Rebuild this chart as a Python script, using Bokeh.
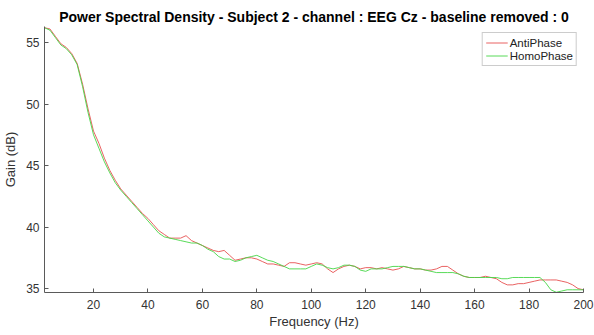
from bokeh.plotting import figure
from bokeh.models import Range1d, FixedTicker, Legend, LegendItem
from bokeh.embed import file_html
from bokeh.resources import INLINE

freq = list(range(2, 201, 2))
anti_phase = [
    56.2, 56.1, 55.5, 54.9, 54.6, 54.1, 53.3, 51.6, 49.6, 47.8,
    46.8, 45.6, 44.6, 43.8, 43.1, 42.6, 42.1, 41.6, 41.1, 40.7,
    40.2, 39.7, 39.4, 39.1, 39.1, 39.1, 39.3, 38.9, 38.7, 38.5,
    38.3, 38.1, 38.0, 38.1, 37.7, 37.3, 37.4, 37.5, 37.5, 37.4,
    37.2, 37.0, 37.0, 36.9, 36.8, 37.1, 37.1, 37.0, 36.9, 37.0,
    37.1, 37.0, 36.6, 36.3, 36.6, 36.8, 36.9, 36.8, 36.6, 36.7,
    36.7, 36.6, 36.7, 36.6, 36.5, 36.6, 36.8, 36.7, 36.6, 36.6,
    36.5, 36.5, 36.6, 36.8, 36.8, 36.5, 36.2, 36.0, 35.9, 35.9,
    35.9, 36.0, 35.9, 35.8, 35.5, 35.3, 35.3, 35.4, 35.4, 35.5,
    35.6, 35.7, 35.7, 35.7, 35.7, 35.6, 35.5, 35.3, 35.0, 34.9,
]
homo_phase = [
    56.2, 56.0, 55.4, 54.8, 54.5, 54.0, 53.2, 51.4, 49.3, 47.5,
    46.4, 45.3, 44.4, 43.6, 43.0, 42.5, 42.0, 41.5, 41.0, 40.5,
    40.0, 39.5, 39.2, 39.1, 39.0, 38.9, 38.8, 38.7, 38.7, 38.5,
    38.2, 38.0, 37.6, 37.4, 37.4, 37.2, 37.3, 37.5, 37.6, 37.7,
    37.5, 37.3, 37.2, 37.0, 36.8, 36.6, 36.6, 36.6, 36.6, 36.8,
    37.0, 36.9, 36.7, 36.6, 36.7, 36.9, 36.9, 36.8, 36.5, 36.4,
    36.6, 36.6, 36.6, 36.7, 36.8, 36.8, 36.8, 36.7, 36.6, 36.6,
    36.5, 36.4, 36.3, 36.3, 36.3, 36.3, 36.2, 36.0, 35.9, 35.9,
    35.9, 35.9, 35.9, 35.9, 35.8, 35.8, 35.9, 35.9, 35.9, 35.9,
    35.9, 35.9, 35.5, 34.9, 34.7, 34.8, 34.9, 34.9, 34.9, 34.9,
]
x_ticks = [20, 40, 60, 80, 100, 120, 140, 160, 180, 200]
y_ticks = [35, 40, 45, 50, 55]
series_names = ["AntiPhase", "HomoPhase"]

FONT = "Liberation Sans"
AX = "#5a5a5a"
TXT = "#333333"

p = figure(width=594, height=335, output_backend="svg", toolbar_location=None,
           x_range=Range1d(2, 200), y_range=Range1d(34.68, 56.3),
           min_border_left=43, min_border_right=11, min_border_top=26,
           min_border_bottom=43,
           title="Power Spectral Density - Subject 2 - channel : EEG Cz - baseline removed : 0")
p.title.text_font = FONT
p.title.text_font_size = "14px"
p.title.text_font_style = "bold"
p.title.text_color = "#000000"
p.title.align = "center"
p.title.offset = 0
p.title.standoff = 4

p.outline_line_color = None
p.xgrid.visible = False
p.ygrid.visible = False
p.background_fill_color = "white"
p.border_fill_color = "white"

for ax in (p.xaxis[0], p.yaxis[0]):
    ax.axis_line_color = AX
    ax.major_tick_line_color = AX
    ax.major_tick_in = 4
    ax.major_tick_out = 0
    ax.minor_tick_line_color = None
    ax.major_label_text_font = FONT
    ax.major_label_text_font_size = "12px"
    ax.major_label_text_color = TXT
    ax.axis_label_text_font = FONT
    ax.axis_label_text_font_size = "13px"
    ax.axis_label_text_font_style = "normal"
    ax.axis_label_text_color = TXT

p.xaxis.ticker = FixedTicker(ticks=x_ticks)
p.yaxis.ticker = FixedTicker(ticks=y_ticks)
p.xaxis.axis_label = "Frequency (Hz)"
p.yaxis.axis_label = "Gain (dB)"
p.xaxis.major_label_standoff = 7
p.yaxis.major_label_standoff = 5
p.xaxis.axis_label_standoff = 2
p.yaxis.axis_label_standoff = 5

r1 = p.line(freq, anti_phase, line_color="#e65050", line_width=0.9)
r2 = p.line(freq, homo_phase, line_color="#46d646", line_width=0.9)

legend = Legend(items=[LegendItem(label=series_names[0], renderers=[r1]),
                       LegendItem(label=series_names[1], renderers=[r2])],
                location="top_right")
legend.margin = 6
legend.padding = 3
legend.spacing = 0
legend.label_height = 13
legend.glyph_height = 13
legend.glyph_width = 22
legend.label_standoff = 2
legend.label_text_font = FONT
legend.label_text_font_size = "11.5px"
legend.label_text_color = "#222222"
legend.border_line_color = "#999999"
legend.background_fill_color = "white"
p.add_layout(legend)

open("out.html", "w").write(file_html(p, INLINE))
